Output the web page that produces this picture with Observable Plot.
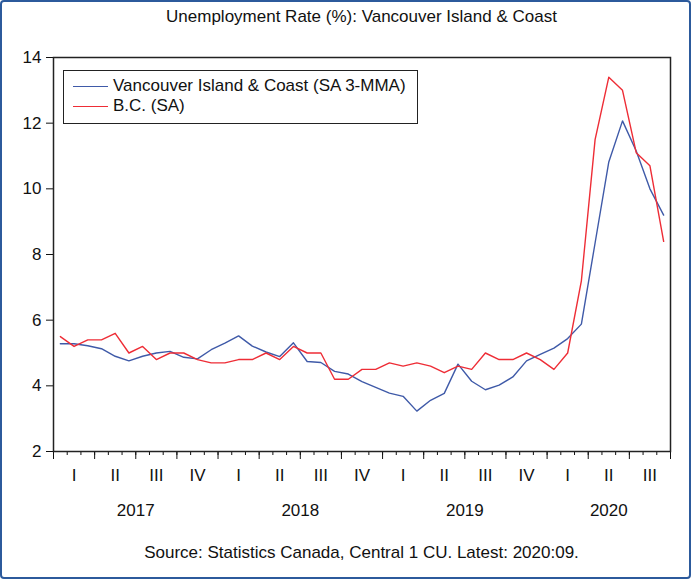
<!DOCTYPE html>
<html>
<head>
<meta charset="utf-8">
<script src="https://cdn.jsdelivr.net/npm/d3@7"></script>
<script src="https://cdn.jsdelivr.net/npm/@observablehq/plot@0.6"></script>
<style>
  body { margin: 0; background: #fff; }
  #wrap { position: relative; width: 691px; height: 579px; background: #fff; overflow: hidden;
          font-family: "Liberation Sans", Arial, sans-serif; color: #111; }
  #border { position: absolute; left: 0; top: 0; width: 691px; height: 579px; box-sizing: border-box;
            border: 2px solid #2c5a9c; border-radius: 4px; pointer-events: none; }
  #title { position: absolute; left: 53px; top: 7px; width: 617px; text-align: center; font-size: 17px; line-height: 20px; }
  #chart { position: absolute; left: 0; top: 38px; }
  #caption { position: absolute; left: 53px; top: 543px; width: 617px; text-align: center; font-size: 17px; line-height: 20px; }
  #legend { position: absolute; left: 63px; top: 70px; width: 355px; height: 54px; box-sizing: border-box;
            border: 1px solid #222; background: #fff; padding-top: 5px; }
  .row { display: flex; align-items: center; height: 20px; font-size: 17px; }
  .sw { width: 35px; height: 0; margin-left: 9px; margin-right: 5px; border-top: 1.3px solid; }
</style>
</head>
<body>
<div id="wrap">
  <div id="title">Unemployment Rate (%): Vancouver Island &amp; Coast</div>
  <div id="chart"></div>
  <div id="legend"></div>
  <div id="caption">Source: Statistics Canada, Central 1 CU. Latest: 2020:09.</div>
  <div id="border"></div>
</div>
<script>
// Months: Jan 2017 .. Sep 2020
const years = [2017, 2018, 2019, 2020];
const quarterNames = ["I", "II", "III", "IV"];
const yTicks = [2, 4, 6, 8, 10, 12, 14];

const seriesNames = ["Vancouver Island & Coast (SA 3-MMA)", "B.C. (SA)"];
const seriesColors = ["#3f5aa8", "#ee2d36"];

const vanIsland = [5.28, 5.28, 5.22, 5.13, 4.90, 4.76, 4.90, 5.00, 5.05, 4.87, 4.82, 5.10,
                   5.30, 5.52, 5.21, 5.03, 4.89, 5.31, 4.74, 4.71, 4.44, 4.36, 4.13, 3.95,
                   3.78, 3.68, 3.23, 3.56, 3.77, 4.66, 4.14, 3.88, 4.02, 4.27, 4.76, 4.96,
                   5.15, 5.44, 5.88, 8.35, 10.82, 12.07, 11.15, 10.00, 9.20];
const bc = [5.5, 5.2, 5.4, 5.4, 5.6, 5.0, 5.2, 4.8, 5.0, 5.0, 4.8, 4.7,
            4.7, 4.8, 4.8, 5.0, 4.8, 5.2, 5.0, 5.0, 4.2, 4.2, 4.5, 4.5,
            4.7, 4.6, 4.7, 4.6, 4.4, 4.6, 4.5, 5.0, 4.8, 4.8, 5.0, 4.8,
            4.5, 5.0, 7.2, 11.5, 13.4, 13.0, 11.1, 10.7, 8.4];

const nMonths = vanIsland.length; // 45
const rowsVan = vanIsland.map((v, i) => ({pos: i + 0.5, value: v}));
const rowsBC = bc.map((v, i) => ({pos: i + 0.5, value: v}));

const monthBounds = d3.range(0, nMonths + 1);
const quarterBounds = monthBounds.filter(m => m % 3 === 0);
const quarterRows = d3.range(0, nMonths / 3).map(q => ({pos: q * 3 + 1.5, label: quarterNames[q % 4]}));
const yearRows = years.map((y, k) => {
  const start = k * 12, end = Math.min(nMonths, start + 12);
  return {pos: (start + end) / 2, label: String(y)};
});

const font = "'Liberation Sans', Arial, sans-serif";

const chart = Plot.plot({
  width: 691,
  height: 490,
  marginLeft: 53,
  marginRight: 21,
  marginTop: 19,
  marginBottom: 77,
  style: {fontFamily: font, fontSize: "17px", background: "transparent", color: "#111"},
  x: {type: "linear", domain: [0, nMonths], label: null},
  y: {domain: [2, 14], label: null},
  marks: [
    Plot.axisY({ticks: yTicks, tickSize: 7, tickPadding: 5, fontSize: 17, label: null}),
    Plot.axisX({ticks: monthBounds, tickSize: 4, fill: "none", label: null}),
    Plot.axisX({ticks: quarterBounds, tickSize: 8, fill: "none", label: null}),
    Plot.text(quarterRows, {x: "pos", text: "label", frameAnchor: "bottom", dy: 24, lineAnchor: "middle", fontSize: 17}),
    Plot.text(yearRows, {x: "pos", text: "label", frameAnchor: "bottom", dy: 59, lineAnchor: "middle", fontSize: 17}),
    Plot.line(rowsVan, {x: "pos", y: "value", stroke: seriesColors[0], strokeWidth: 1.4}),
    Plot.line(rowsBC, {x: "pos", y: "value", stroke: seriesColors[1], strokeWidth: 1.4}),
    Plot.frame({stroke: "#222", strokeWidth: 1.5})
  ]
});
document.getElementById("chart").appendChild(chart);

const legend = document.getElementById("legend");
seriesNames.forEach((name, i) => {
  const row = document.createElement("div");
  row.className = "row";
  const sw = document.createElement("span");
  sw.className = "sw";
  sw.style.borderTopColor = seriesColors[i];
  const t = document.createElement("span");
  t.textContent = name;
  row.appendChild(sw);
  row.appendChild(t);
  legend.appendChild(row);
});
</script>
</body>
</html>
